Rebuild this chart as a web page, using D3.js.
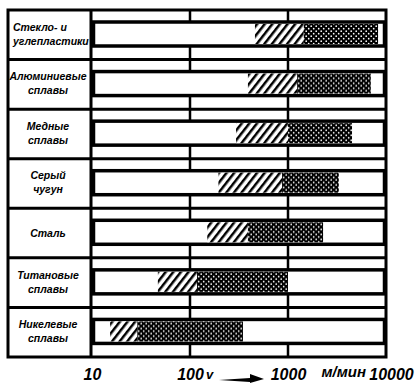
<!DOCTYPE html>
<html>
<head>
<meta charset="utf-8">
<script src="https://cdn.jsdelivr.net/npm/d3@7"></script>
<style>
  body { margin: 0; background: #fff; }
  svg { display: block; }
  .lbl { font-family: 'Liberation Sans', Arial, sans-serif; font-weight: bold; font-style: italic; }
</style>
</head>
<body>
<svg id="chart"></svg>
<script>
// materials (two lines per label)
var categories = [
  ['Стекло- и', 'углепластики'],
  ['Алюминиевые', 'сплавы'],
  ['Медные', 'сплавы'],
  ['Серый', 'чугун'],
  ['Сталь'],
  ['Титановые', 'сплавы'],
  ['Никелевые', 'сплавы']
]
// cutting speed, m/min
var hatchFrom = [460, 390, 295, 195, 150, 47, 15.3]
var hatchTo = [1450, 1240, 1000, 870, 390, 118, 29]
var dotsTo = [8300, 7000, 4500, 3300, 2280, 1000, 347]
var tickVals = [10, 100, 1000, 10000]
var gridVals = [100, 1000]

var width = 416
var height = 383

var svg = d3.select('#chart')
  .attr('width', width)
  .attr('height', height)

var defs = svg.append('defs')
var hatch = defs.append('pattern')
  .attr('id', 'hatch')
  .attr('width', 6).attr('height', 6)
  .attr('patternUnits', 'userSpaceOnUse')
  .attr('patternTransform', 'rotate(38)')
hatch.append('rect').attr('width', 6).attr('height', 6).attr('fill', '#fff')
hatch.append('line').attr('x1', 1.2).attr('y1', 0).attr('x2', 1.2).attr('y2', 6)
  .attr('stroke', '#000').attr('stroke-width', 2.6)

var dots = defs.append('pattern')
  .attr('id', 'dots')
  .attr('width', 5).attr('height', 5)
  .attr('patternUnits', 'userSpaceOnUse')
dots.append('rect').attr('width', 5).attr('height', 5).attr('fill', '#000')
dots.append('circle').attr('cx', 1.2).attr('cy', 1.2).attr('r', 0.85).attr('fill', '#fff')
dots.append('circle').attr('cx', 3.7).attr('cy', 3.7).attr('r', 0.85).attr('fill', '#fff')

var frameL = 8
var frameR = 386
var splitX = 91
var frameT = 10
var frameB = 357

var x = d3.scaleLog()
  .domain([10, 10000])
  .range([92, frameR])
var y = d3.scaleBand()
  .domain(d3.range(categories.length))
  .range([frameT, frameB])

var rowH = y.bandwidth()

// vertical grid, visible only in the thin strips
svg.append('g').selectAll('line')
  .data(gridVals)
  .enter().append('line')
  .attr('x1', function (d) { return x(d) })
  .attr('x2', function (d) { return x(d) })
  .attr('y1', frameT).attr('y2', frameB)
  .attr('stroke', '#000')
  .attr('stroke-width', 2.5)

var rows = svg.append('g').selectAll('.row')
  .data(categories)
  .enter().append('g')
  .attr('class', 'row')
  .attr('transform', function (d, i) { return 'translate(0,' + y(i) + ')' })

// bar box (white) spanning the full range
rows.append('rect')
  .attr('x', x(10) + 1.5)
  .attr('width', x(10000) - x(10) - 3)
  .attr('y', 12)
  .attr('height', 24)
  .attr('fill', '#fff')
  .attr('stroke', '#000')
  .attr('stroke-width', 3.5)

rows.append('rect')
  .attr('x', function (d, i) { return x(hatchFrom[i]) })
  .attr('width', function (d, i) { return x(hatchTo[i]) - x(hatchFrom[i]) })
  .attr('y', 14)
  .attr('height', 20)
  .attr('fill', 'url(#hatch)')

rows.append('rect')
  .attr('x', function (d, i) { return x(hatchTo[i]) })
  .attr('width', function (d, i) { return x(dotsTo[i]) - x(hatchTo[i]) })
  .attr('y', 14)
  .attr('height', 20)
  .attr('fill', 'url(#dots)')

// row separators
svg.append('g').selectAll('line')
  .data(d3.range(1, categories.length))
  .enter().append('line')
  .attr('x1', frameL).attr('x2', frameR)
  .attr('y1', function (d) { return y(d) })
  .attr('y2', function (d) { return y(d) })
  .attr('stroke', '#000')
  .attr('stroke-width', 3)

// frame + label column
svg.append('rect')
  .attr('x', frameL).attr('y', frameT)
  .attr('width', frameR - frameL).attr('height', frameB - frameT)
  .attr('fill', 'none')
  .attr('stroke', '#000')
  .attr('stroke-width', 3)
svg.append('line')
  .attr('x1', splitX).attr('x2', splitX)
  .attr('y1', frameT).attr('y2', frameB)
  .attr('stroke', '#000')
  .attr('stroke-width', 3)

// row labels
rows.append('text')
  .attr('class', 'lbl')
  .attr('font-size', 10.5)
  .attr('text-anchor', function (d, i) { return i === 0 ? 'start' : 'middle' })
  .attr('x', function (d, i) { return i === 0 ? 13 : 48 })
  .selectAll('tspan')
  .data(function (d) { return d })
  .enter().append('tspan')
  .attr('x', function (d, j, nodes) {
    return d3.select(nodes[j].parentNode).attr('x')
  })
  .attr('y', function (d, j, nodes) {
    var n = nodes.length
    return n === 1 ? rowH / 2 + 4 : rowH / 2 - 4 + j * 14
  })
  .text(function (d) { return d })

// x axis labels
var axis = d3.axisBottom(x)
  .tickValues(tickVals)
  .tickSize(0)
  .tickFormat(d3.format('d'))
var gAxis = svg.append('g')
  .attr('transform', 'translate(0,' + (frameB + 6) + ')')
  .call(axis)
gAxis.select('.domain').remove()
gAxis.selectAll('text')
  .attr('class', 'lbl')
  .attr('font-size', 16)
  .attr('fill', '#000')
  .attr('dy', '0.9em')
  .attr('dx', function (d) { return d === 10000 ? 5 : 0 })

svg.append('text')
  .attr('class', 'lbl')
  .attr('font-size', 15)
  .attr('text-anchor', 'end')
  .attr('x', x(10000) - 20)
  .attr('y', 377)
  .text('м/мин')

// speed symbol with arrow
svg.append('text')
  .attr('class', 'lbl')
  .attr('font-size', 13)
  .attr('x', 206)
  .attr('y', 379)
  .text('v')
svg.append('path')
  .attr('d', 'M219,380 L250,378 L250,374 L264,379 L250,383 L250,382 Z')
  .attr('fill', '#000')
</script>
</body>
</html>
